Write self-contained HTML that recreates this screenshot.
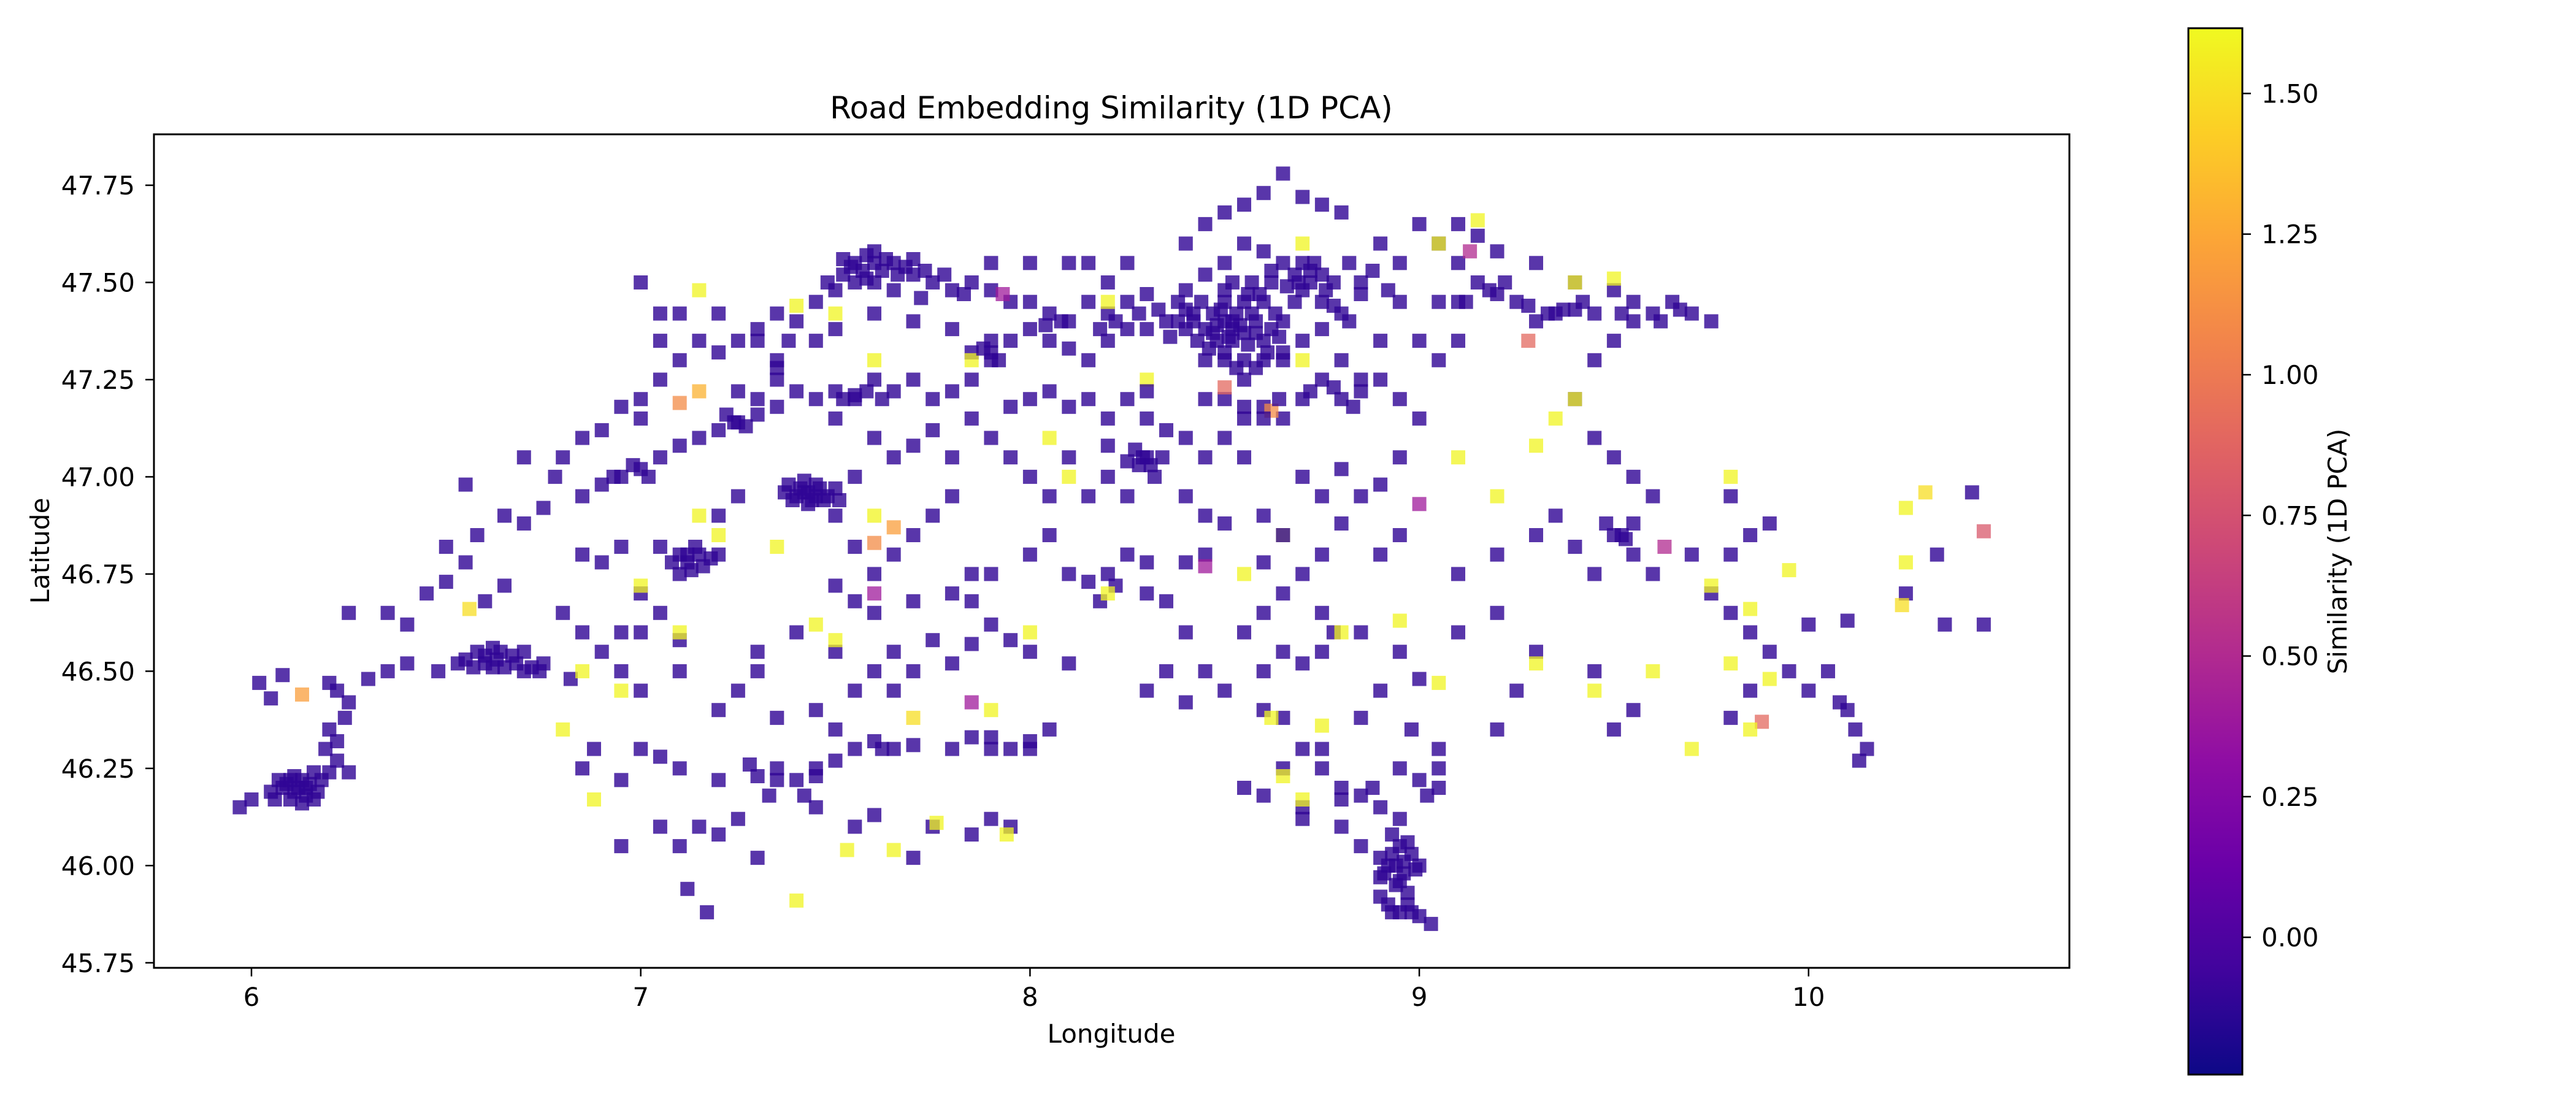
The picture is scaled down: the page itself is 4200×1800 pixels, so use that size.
<!DOCTYPE html>
<html><head><meta charset="utf-8"><style>
html,body{margin:0;padding:0;background:#fff;}
svg{display:block;font-family:"DejaVu Sans","Liberation Sans",sans-serif;}
</style></head><body>
<svg id="chart" width="4200" height="1800" viewBox="0 0 4200 1800" xmlns="http://www.w3.org/2000/svg">
<defs>
<linearGradient id="plasma" x1="0" y1="1" x2="0" y2="0">
<stop offset="0" stop-color="#0d0887"/><stop offset="0.1" stop-color="#41049d"/><stop offset="0.2" stop-color="#6a00a8"/><stop offset="0.3" stop-color="#8f0da4"/><stop offset="0.4" stop-color="#b12a90"/><stop offset="0.5" stop-color="#cc4778"/><stop offset="0.6" stop-color="#e16462"/><stop offset="0.7" stop-color="#f2844b"/><stop offset="0.8" stop-color="#fca636"/><stop offset="0.9" stop-color="#fcce25"/><stop offset="1" stop-color="#f0f921"/>
</linearGradient>
<clipPath id="plotclip"><rect x="251" y="219" width="3123" height="1359"/></clipPath>
</defs>
<text x="1812" y="193" font-size="50" text-anchor="middle">Road Embedding Similarity (1D PCA)</text>
<g id="points" clip-path="url(#plotclip)"></g>
<rect x="251" y="219" width="3123" height="1359" fill="none" stroke="#000" stroke-width="3"/>
<g id="xticks"></g>
<g id="yticks"></g>
<text x="1812" y="1700" font-size="42" text-anchor="middle">Longitude</text>
<text x="0" y="0" font-size="42" text-anchor="middle" transform="translate(80,898) rotate(-90)">Latitude</text>
<rect x="3568" y="46" width="88" height="1706" fill="url(#plasma)" stroke="#000" stroke-width="3"/>
<g id="cticks"></g>
<text x="0" y="0" font-size="42" text-anchor="middle" transform="translate(3826,899) rotate(-90)">Similarity (1D PCA)</text>
</svg>
<script>
const D = -0.12;
const xTickValues = [6, 7, 8, 9, 10];
const yTickValues = [45.75, 46.00, 46.25, 46.50, 46.75, 47.00, 47.25, 47.50, 47.75];
const cTickValues = [0.00, 0.25, 0.50, 0.75, 1.00, 1.25, 1.50];
const pointsGeneva = [[5.97,46.15,D],[6.0,46.17,D],[6.05,46.19,D],[6.08,46.2,D],[6.1,46.22,D],[6.12,46.2,D],[6.14,46.18,D],[6.15,46.21,D],[6.17,46.19,D],[6.13,46.16,D],[6.1,46.17,D],[6.2,46.24,D],[6.22,46.27,D],[6.25,46.24,D],[6.19,46.3,D],[6.22,46.32,D],[6.2,46.35,D],[6.24,46.38,D],[6.25,46.42,D],[6.22,46.45,D],[6.2,46.47,D],[6.02,46.47,D],[6.05,46.43,D],[6.08,46.49,D],[6.13,46.44,1.2],[6.11,46.23,D],[6.16,46.24,D],[6.07,46.22,D]];
const pointsLeman = [[6.3,46.48,D],[6.35,46.5,D],[6.4,46.52,D],[6.48,46.5,D],[6.55,46.53,D],[6.6,46.52,D],[6.63,46.53,D],[6.65,46.51,D],[6.68,46.52,D],[6.7,46.5,D],[6.58,46.55,D],[6.62,46.56,D],[6.72,46.51,D],[6.75,46.52,D],[6.7,46.55,D],[6.25,46.65,D],[6.35,46.65,D],[6.4,46.62,D],[6.45,46.7,D],[6.5,46.73,D],[6.5,46.82,D],[6.55,46.78,D],[6.6,46.68,D],[6.65,46.72,D],[6.58,46.85,D],[6.55,46.98,D],[6.65,46.9,D],[6.7,46.88,D],[6.75,46.92,D],[6.78,47.0,D],[6.7,47.05,D],[6.8,47.05,D],[6.85,47.1,D],[6.9,47.12,D],[6.95,47.18,D],[7.0,47.2,D],[7.0,47.15,D],[7.05,47.25,D],[7.1,47.3,D],[7.15,47.35,D],[7.05,47.42,D],[7.1,47.42,D],[7.0,47.5,D],[7.15,47.48,1.6],[7.2,47.42,D],[6.56,46.66,1.5]];
const pointsPlateauWest = [[6.85,46.95,D],[6.9,46.98,D],[6.95,47.0,D],[7.0,47.02,D],[7.05,47.05,D],[7.1,47.08,D],[7.15,47.1,D],[7.2,47.12,D],[7.25,47.14,D],[7.3,47.16,D],[7.35,47.18,D],[7.1,46.8,D],[7.12,46.78,D],[7.15,46.8,D],[7.18,46.79,D],[7.1,46.75,D],[7.05,46.82,D],[7.2,46.9,D],[7.25,46.95,D],[7.4,46.95,D],[7.42,46.96,D],[7.45,46.95,D],[7.47,46.94,D],[7.43,46.93,D],[7.5,46.97,D],[7.38,46.98,D],[7.45,46.98,D],[7.55,47.0,D],[7.5,46.9,D],[6.85,46.8,D],[6.9,46.78,D],[6.95,46.82,D],[7.0,46.7,D],[6.8,46.65,D],[6.85,46.6,D],[6.9,46.55,D],[6.95,46.5,D],[7.0,46.45,D],[6.82,46.48,D],[6.95,46.6,D],[7.0,46.6,D],[7.05,46.65,D],[7.1,46.58,D],[7.1,46.5,D],[7.35,47.28,D],[7.25,47.22,D],[7.15,47.22,1.3],[7.1,47.19,1.1],[7.2,46.85,1.6],[7.15,46.9,1.6],[7.35,46.82,1.6],[7.0,46.72,1.6],[7.1,46.6,1.6],[6.95,46.45,1.6],[6.85,46.5,1.6]];
const pointsValais = [[7.0,46.3,D],[7.05,46.28,D],[6.95,46.22,D],[7.1,46.25,D],[7.2,46.22,D],[7.3,46.23,D],[7.35,46.25,D],[7.4,46.22,D],[7.45,46.25,D],[7.5,46.27,D],[7.55,46.3,D],[7.6,46.32,D],[7.65,46.3,D],[7.7,46.31,D],[7.8,46.3,D],[7.85,46.33,D],[7.9,46.3,D],[8.0,46.32,D],[8.05,46.35,D],[8.0,46.3,D],[7.15,46.1,D],[7.2,46.08,D],[7.1,46.05,D],[7.05,46.1,D],[7.25,46.12,D],[7.33,46.18,D],[7.45,46.15,D],[7.55,46.1,D],[7.6,46.13,D],[7.7,46.02,D],[7.75,46.1,D],[7.85,46.08,D],[7.9,46.12,D],[7.95,46.1,D],[7.17,45.88,D],[7.12,45.94,D],[7.3,46.02,D],[7.4,45.91,1.6],[7.53,46.04,1.6],[7.65,46.04,1.6],[7.76,46.11,1.6],[7.94,46.08,1.6],[6.95,46.05,D],[6.88,46.17,1.6],[6.85,46.25,D],[6.8,46.35,1.6],[6.88,46.3,D],[7.85,46.42,0.4],[7.7,46.38,1.5],[7.28,46.26,D],[7.42,46.18,D]];
const pointsOberland = [[7.4,46.6,D],[7.55,46.68,D],[7.6,46.65,D],[7.7,46.68,D],[7.8,46.7,D],[7.85,46.68,D],[7.9,46.62,D],[7.75,46.58,D],[7.65,46.55,D],[7.6,46.5,D],[7.55,46.45,D],[7.65,46.45,D],[7.7,46.5,D],[7.8,46.52,D],[7.85,46.57,D],[7.95,46.58,D],[8.0,46.55,D],[8.1,46.52,D],[7.5,46.55,D],[7.3,46.55,D],[7.3,46.5,D],[7.25,46.45,D],[7.2,46.4,D],[7.35,46.38,D],[7.5,46.35,D],[7.45,46.4,D],[7.5,46.58,1.6],[7.45,46.62,1.6],[7.9,46.4,1.6],[8.0,46.6,1.6]];
const pointsCentral = [[7.6,46.75,D],[7.65,46.8,D],[7.7,46.85,D],[7.75,46.9,D],[7.8,46.95,D],[7.55,46.82,D],[7.6,46.83,1.1],[7.5,46.72,D],[7.85,46.75,D],[7.9,46.75,D],[8.0,46.8,D],[8.05,46.85,D],[8.1,46.75,D],[8.15,46.73,D],[8.2,46.75,D],[8.25,46.8,D],[8.3,46.78,D],[8.22,46.72,D],[8.18,46.68,D],[8.3,46.7,D],[8.35,46.68,D],[8.4,46.78,D],[8.45,46.8,D],[8.6,46.65,D],[8.55,46.6,D],[8.4,46.6,D],[8.35,46.5,D],[8.45,46.5,D],[8.6,46.5,D],[8.65,46.55,D],[8.7,46.52,D],[8.75,46.55,D],[8.78,46.6,D],[8.5,46.45,D],[8.4,46.42,D],[8.3,46.45,D],[7.6,46.7,0.4],[8.45,46.77,0.4],[7.6,46.9,1.6],[8.2,46.7,1.6],[8.55,46.75,1.6],[8.65,46.85,1.6],[8.1,47.0,1.6],[8.05,47.1,1.6],[7.65,46.87,1.2]];
const pointsTicino = [[8.6,46.4,D],[8.65,46.38,D],[8.7,46.3,D],[8.75,46.25,D],[8.8,46.2,D],[8.85,46.18,D],[8.9,46.15,D],[8.95,46.12,D],[8.93,46.08,D],[8.95,46.05,D],[8.98,46.03,D],[8.92,46.0,D],[8.96,45.98,D],[8.94,45.95,D],[8.9,45.92,D],[8.95,45.88,D],[9.0,45.87,D],[9.03,45.85,D],[8.93,45.88,D],[8.97,45.9,D],[9.0,46.0,D],[8.9,46.02,D],[8.85,46.05,D],[8.8,46.1,D],[8.7,46.15,D],[8.6,46.18,D],[8.55,46.2,D],[8.75,46.3,D],[8.65,46.25,D],[8.95,46.25,D],[9.0,46.22,D],[9.05,46.3,D],[9.05,46.25,D],[8.98,46.35,D],[8.85,46.38,D],[8.9,46.45,D],[9.0,46.48,D],[8.95,46.55,D],[8.85,46.6,D],[8.75,46.65,D],[8.62,46.38,1.6],[8.65,46.23,1.6],[8.7,46.17,1.6],[8.75,46.36,1.6],[8.8,46.6,1.6],[8.95,46.63,1.6],[9.05,46.47,1.6],[8.93,46.03,D],[8.97,46.06,D],[8.9,45.97,D]];
const pointsEast = [[9.1,46.75,D],[9.2,46.8,D],[9.3,46.85,D],[9.35,46.9,D],[9.4,46.82,D],[9.45,46.75,D],[9.5,46.85,D],[9.55,46.8,D],[9.6,46.75,D],[9.7,46.8,D],[9.63,46.82,0.5],[9.75,46.7,D],[9.8,46.65,D],[9.85,46.6,D],[9.9,46.55,D],[9.95,46.5,D],[9.85,46.45,D],[9.8,46.38,D],[9.88,46.37,0.9],[10.0,46.45,D],[10.05,46.5,D],[10.1,46.4,D],[10.12,46.35,D],[10.15,46.3,D],[10.13,46.27,D],[10.0,46.62,D],[10.25,46.7,D],[10.35,46.62,D],[10.45,46.62,D],[10.42,46.96,D],[10.33,46.8,D],[9.45,46.5,D],[9.5,46.35,D],[9.55,46.4,D],[9.2,46.35,D],[9.25,46.45,D],[9.3,46.55,D],[9.1,46.6,D],[9.2,46.65,D],[9.55,47.0,D],[9.6,46.95,D],[9.55,46.88,D],[9.5,47.05,D],[9.45,47.1,D],[9.4,47.2,D],[9.45,47.3,D],[9.8,46.95,D],[9.85,46.85,D],[9.9,46.88,D],[9.8,46.8,D],[9.0,46.93,0.4],[10.45,46.86,0.8],[9.75,46.72,1.6],[9.85,46.66,1.6],[9.7,46.3,1.6],[9.95,46.76,1.6],[10.25,46.92,1.6],[10.25,46.78,1.6],[9.8,46.52,1.6],[9.9,46.48,1.6],[9.85,46.35,1.6],[9.45,46.45,1.6],[9.3,46.52,1.6],[9.2,46.95,1.6],[9.3,47.08,1.6],[9.35,47.15,1.6],[9.1,47.05,1.6],[9.8,47.0,1.6],[9.6,46.5,1.6],[10.3,46.96,1.5],[10.24,46.67,1.5]];
const pointsNortheast = [[9.35,47.42,D],[9.4,47.43,D],[9.3,47.4,D],[9.25,47.45,D],[9.2,47.47,D],[9.15,47.5,D],[9.1,47.55,D],[9.05,47.6,D],[9.0,47.65,D],[9.1,47.65,D],[9.15,47.62,D],[9.2,47.58,D],[9.3,47.55,D],[9.4,47.5,D],[9.5,47.48,D],[9.55,47.45,D],[9.5,47.35,D],[9.55,47.4,D],[9.6,47.42,D],[9.65,47.45,D],[9.7,47.42,D],[9.75,47.4,D],[8.95,47.55,D],[8.9,47.6,D],[8.8,47.68,D],[8.75,47.7,D],[8.7,47.72,D],[8.65,47.78,D],[8.6,47.73,D],[8.55,47.7,D],[8.5,47.68,D],[8.45,47.65,D],[8.4,47.6,D],[9.28,47.35,0.9],[9.13,47.58,0.5],[9.4,47.5,1.6],[9.5,47.51,1.6],[9.05,47.6,1.6],[9.15,47.66,1.6],[8.7,47.6,1.6],[9.4,47.2,1.6]];
const pointsZurich = [[8.5,47.4,D],[8.52,47.38,D],[8.55,47.37,D],[8.53,47.42,D],[8.48,47.35,D],[8.45,47.38,D],[8.55,47.45,D],[8.6,47.45,D],[8.58,47.4,D],[8.5,47.45,D],[8.47,47.42,D],[8.5,47.32,D],[8.55,47.3,D],[8.6,47.35,D],[8.62,47.38,D],[8.65,47.4,D],[8.42,47.42,D],[8.4,47.38,D],[8.38,47.45,D],[8.35,47.4,D],[8.45,47.3,D],[8.6,47.3,D],[8.65,47.32,D],[8.55,47.25,D],[8.5,47.48,D],[8.57,47.5,D],[8.62,47.5,D],[8.68,47.52,D],[8.72,47.5,D],[8.75,47.52,D],[8.7,47.48,D],[8.73,47.55,D],[8.78,47.5,D],[8.65,47.55,D],[8.75,47.45,D],[8.8,47.42,D],[8.85,47.47,D],[8.6,47.58,D],[8.55,47.6,D],[8.5,47.55,D],[8.45,47.52,D],[8.4,47.48,D],[8.52,47.35,D],[8.57,47.42,D],[8.48,47.39,D],[8.7,47.3,1.6]];
const pointsNorthwest = [[7.55,47.55,D],[7.6,47.55,D],[7.58,47.57,D],[7.62,47.53,D],[7.65,47.55,D],[7.7,47.56,D],[7.52,47.52,D],[7.55,47.5,D],[7.5,47.48,D],[7.6,47.5,D],[7.7,47.52,D],[7.75,47.5,D],[7.8,47.48,D],[7.85,47.5,D],[7.9,47.48,D],[7.95,47.45,D],[8.0,47.45,D],[8.05,47.42,D],[8.1,47.4,D],[8.15,47.45,D],[8.2,47.42,D],[8.25,47.45,D],[8.3,47.47,D],[8.2,47.5,D],[8.1,47.55,D],[8.0,47.55,D],[7.9,47.55,D],[8.15,47.55,D],[8.25,47.55,D],[7.45,47.45,D],[7.4,47.4,D],[7.35,47.42,D],[7.3,47.38,D],[7.25,47.35,D],[7.38,47.35,D],[7.45,47.35,D],[7.5,47.38,D],[7.6,47.42,D],[7.7,47.4,D],[7.8,47.38,D],[7.85,47.32,D],[7.9,47.32,D],[7.95,47.35,D],[8.0,47.38,D],[8.05,47.35,D],[8.1,47.33,D],[8.15,47.3,D],[8.2,47.35,D],[8.25,47.38,D],[7.93,47.47,0.4],[7.4,47.44,1.6],[7.5,47.42,1.6],[7.6,47.3,1.6],[7.85,47.3,1.6],[8.2,47.45,1.6],[8.3,47.25,1.6]];
const pointsMittelland = [[7.5,47.22,D],[7.55,47.2,D],[7.45,47.2,D],[7.4,47.22,D],[7.35,47.25,D],[7.6,47.25,D],[7.65,47.22,D],[7.7,47.25,D],[7.75,47.2,D],[7.8,47.22,D],[7.85,47.25,D],[7.9,47.3,D],[7.5,47.15,D],[7.6,47.1,D],[7.65,47.05,D],[7.7,47.08,D],[7.75,47.12,D],[7.8,47.05,D],[7.85,47.15,D],[7.9,47.1,D],[7.95,47.18,D],[8.0,47.2,D],[8.05,47.22,D],[8.1,47.18,D],[8.15,47.2,D],[8.2,47.15,D],[8.25,47.2,D],[8.3,47.22,D],[8.3,47.15,D],[8.35,47.12,D],[8.4,47.1,D],[8.45,47.05,D],[8.5,47.1,D],[8.55,47.15,D],[8.6,47.18,D],[8.5,47.2,D],[8.45,47.2,D],[8.55,47.05,D],[8.65,47.15,D],[8.7,47.2,D],[8.75,47.25,D],[8.8,47.2,D],[8.85,47.22,D],[8.9,47.25,D],[8.95,47.2,D],[9.0,47.15,D],[9.05,47.3,D],[9.1,47.35,D],[9.0,47.35,D],[8.9,47.35,D],[8.95,47.45,D],[9.05,47.45,D],[9.1,47.45,D],[8.62,47.17,1.1],[8.5,47.23,0.9]];
const pointsLucerne = [[8.3,47.05,D],[8.28,47.03,D],[8.32,47.0,D],[8.25,46.95,D],[8.4,46.95,D],[8.45,46.9,D],[8.5,46.88,D],[8.6,46.9,D],[8.65,46.85,D],[8.7,47.0,D],[8.75,46.95,D],[8.8,47.02,D],[8.85,46.95,D],[8.9,46.98,D],[8.95,47.05,D],[8.2,47.0,D],[8.15,46.95,D],[8.05,46.95,D],[8.0,47.0,D],[7.95,47.05,D],[8.1,47.05,D],[8.2,47.08,D],[8.65,47.3,D],[8.7,47.35,D],[8.75,47.38,D],[8.8,47.3,D],[8.85,47.25,D],[8.7,46.75,D],[8.75,46.8,D],[8.8,46.88,D],[8.6,46.78,D],[8.65,46.7,D],[8.9,46.8,D],[8.95,46.85,D]];
const pointsDense = [[7.52,47.56,D],[7.57,47.53,D],[7.63,47.56,D],[7.6,47.58,D],[7.66,47.52,D],[7.54,47.54,D],[7.68,47.54,D],[7.58,47.51,D],[7.73,47.53,D],[7.78,47.52,D],[7.83,47.47,D],[7.48,47.5,D],[7.65,47.48,D],[7.72,47.46,D],[8.47,47.37,D],[8.51,47.36,D],[8.54,47.39,D],[8.56,47.34,D],[8.49,47.43,D],[8.52,47.4,D],[8.58,47.37,D],[8.43,47.35,D],[8.46,47.33,D],[8.53,47.28,D],[8.58,47.28,D],[8.63,47.42,D],[8.56,47.47,D],[8.52,47.5,D],[8.44,47.45,D],[8.4,47.43,D],[8.36,47.36,D],[8.68,47.45,D],[8.66,47.49,D],[8.7,47.55,D],[8.76,47.48,D],[8.72,47.53,D],[8.69,47.5,D],[8.62,47.53,D],[8.59,47.47,D],[8.61,47.32,D],[8.64,47.36,D],[8.5,47.3,D],[8.42,47.4,D],[8.38,47.4,D],[8.33,47.43,D],[8.3,47.38,D],[7.43,46.96,D],[7.46,46.97,D],[7.44,46.94,D],[7.41,46.97,D],[7.39,46.94,D],[7.48,46.95,D],[7.42,46.99,D],[7.37,46.96,D],[7.51,46.94,D],[7.12,46.8,D],[7.14,46.82,D],[7.16,46.77,D],[7.08,46.78,D],[7.13,46.76,D],[7.2,46.8,D],[6.6,46.54,D],[6.64,46.55,D],[6.67,46.54,D],[6.57,46.51,D],[6.53,46.52,D],[6.74,46.5,D],[6.62,46.51,D],[6.09,46.21,D],[6.13,46.22,D],[6.16,46.17,D],[6.11,46.19,D],[6.06,46.17,D],[6.18,46.22,D],[6.14,46.2,D],[7.24,47.14,D],[7.27,47.13,D],[7.22,47.16,D],[7.3,47.2,D],[6.93,47.0,D],[6.98,47.03,D],[7.02,47.0,D],[9.37,47.43,D],[9.33,47.42,D],[9.28,47.44,D],[9.42,47.45,D],[9.45,47.42,D],[8.96,46.01,D],[8.94,46.0,D],[8.91,45.98,D],[8.95,45.96,D],[8.99,45.99,D],[8.97,45.93,D],[8.92,45.9,D],[8.98,45.88,D],[8.29,47.05,D],[8.31,47.03,D],[8.27,47.07,D],[8.34,47.05,D],[8.25,47.04,D],[7.9,47.35,D],[7.88,47.33,D],[7.92,47.3,D],[8.04,47.39,D],[8.08,47.4,D],[8.22,47.4,D],[8.18,47.38,D],[8.28,47.42,D],[7.55,47.21,D],[7.52,47.2,D],[7.58,47.22,D],[7.62,47.2,D],[8.85,47.5,D],[8.88,47.53,D],[8.82,47.55,D],[8.92,47.48,D],[8.78,47.44,D],[8.82,47.4,D],[9.18,47.48,D],[9.22,47.5,D],[9.12,47.45,D],[9.62,47.4,D],[9.67,47.43,D],[9.52,47.42,D],[8.6,47.15,D],[8.64,47.2,D],[8.72,47.22,D],[8.78,47.23,D],[8.83,47.18,D],[8.55,47.18,D],[9.05,46.2,D],[9.02,46.18,D],[8.88,46.2,D],[8.8,46.17,D],[8.7,46.12,D],[7.45,46.23,D],[7.35,46.22,D],[7.62,46.3,D],[7.95,46.3,D],[7.9,46.33,D],[7.35,47.3,D],[7.3,47.35,D],[7.2,47.32,D],[7.05,47.35,D],[9.52,46.85,D],[9.53,46.84,D],[9.48,46.88,D],[10.1,46.63,D],[10.08,46.42,D]];
const pointGroups = [pointsGeneva, pointsLeman, pointsPlateauWest, pointsValais, pointsOberland, pointsCentral, pointsTicino, pointsEast, pointsNortheast, pointsZurich, pointsNorthwest, pointsMittelland, pointsLucerne, pointsDense];

const NS = 'http://www.w3.org/2000/svg';
const X0 = 251, X1 = 3374, Y0 = 219, Y1 = 1578;
const lonMin = 5.7495, lonMax = 10.670, latMin = 45.737, latMax = 47.881;
const vMin = -0.244, vMax = 1.616;
function xScale(v){ return X0 + (v - lonMin) / (lonMax - lonMin) * (X1 - X0); }
function yScale(v){ return Y1 - (v - latMin) / (latMax - latMin) * (Y1 - Y0); }
function cScale(v){ return 1752 - (v - vMin) / (vMax - vMin) * 1706; }
const plasma = ['#0d0887','#41049d','#6a00a8','#8f0da4','#b12a90','#cc4778','#e16462','#f2844b','#fca636','#fcce25','#f0f921'];
function hex(h){ return [parseInt(h.substr(1,2),16),parseInt(h.substr(3,2),16),parseInt(h.substr(5,2),16)]; }
function colorOf(v){
  let t = Math.max(0, Math.min(1, (v - vMin) / (vMax - vMin))) * 10;
  const i = Math.min(9, Math.floor(t)), f = t - i;
  const a = hex(plasma[i]), b = hex(plasma[i+1]);
  return 'rgb(' + a.map((c,k)=>Math.round(c + (b[k]-c)*f)).join(',') + ')';
}
const gp = document.getElementById('points');
const S = 20;
pointGroups.forEach(group => group.forEach(p => {
  const r = document.createElementNS(NS, 'rect');
  
  
  const c = colorOf(p[2]);
  r.setAttribute('x', (xScale(p[0]) - S/2).toFixed(1));
  r.setAttribute('y', (yScale(p[1]) - S/2).toFixed(1));
  r.setAttribute('width', S);
  r.setAttribute('height', S);
  r.setAttribute('fill', c);
  r.setAttribute('stroke', c);
  r.setAttribute('stroke-width', 3);
  r.setAttribute('opacity', p[2] < 0.3 ? 0.8 : 0.75);
  gp.appendChild(r);
}));
function addLine(g, x1, y1, x2, y2){
  const l = document.createElementNS(NS, 'line');
  
  
  l.setAttribute('x1', x1); l.setAttribute('y1', y1); l.setAttribute('x2', x2); l.setAttribute('y2', y2);
  l.setAttribute('stroke', '#000'); l.setAttribute('stroke-width', 2.5);
  g.appendChild(l);
}
function addText(g, x, y, s, anchor, name){
  const t = document.createElementNS(NS, 'text');
  
  
  t.setAttribute('x', x); t.setAttribute('y', y);
  t.setAttribute('font-size', 42);
  t.setAttribute('text-anchor', anchor);
  t.textContent = s;
  g.appendChild(t);
}
const gx = document.getElementById('xticks');
xTickValues.forEach(v => { const x = xScale(v); addLine(gx, x, Y1, x, Y1 + 14); addText(gx, x, 1640, String(v), 'middle', 'x-tick-label'); });
const gy = document.getElementById('yticks');
yTickValues.forEach(v => { const y = yScale(v); addLine(gy, X0, y, X0 - 14, y); addText(gy, 220, y + 15, v.toFixed(2), 'end', 'y-tick-label'); });
const gc = document.getElementById('cticks');
cTickValues.forEach(v => { const y = cScale(v); addLine(gc, 3656, y, 3670, y); addText(gc, 3687, y + 15, v.toFixed(2), 'start', 'colorbar-tick-label'); });
</script>
</body></html>
